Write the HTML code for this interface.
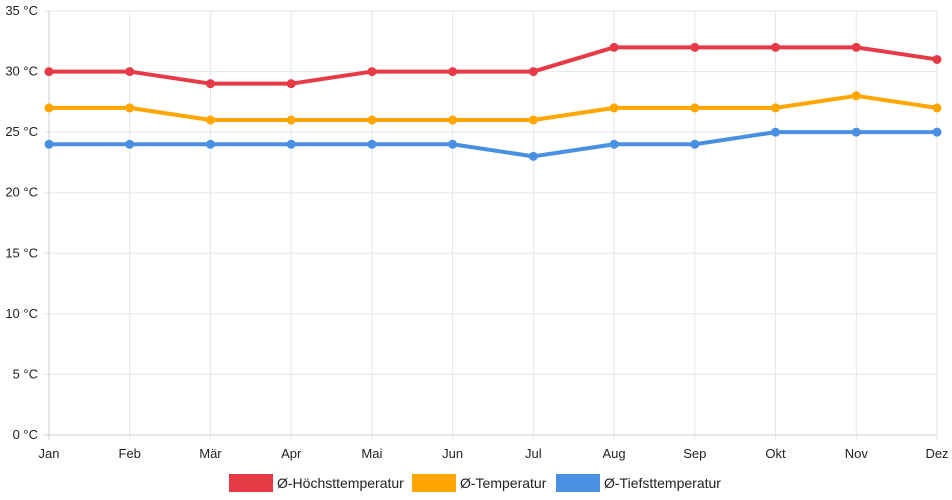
<!DOCTYPE html>
<html><head><meta charset="utf-8"><style>
html,body{margin:0;padding:0;background:#fff;}
svg{display:block;font-family:"Liberation Sans",sans-serif;}
</style></head><body>
<svg id="chart" width="952" height="500"></svg>
<script>
const months=["Jan","Feb","Mär","Apr","Mai","Jun","Jul","Aug","Sep","Okt","Nov","Dez"];
const highTemps=[30,30,29,29,30,30,30,32,32,32,32,31];
const avgTemps=[27,27,26,26,26,26,26,27,27,27,28,27];
const lowTemps=[24,24,24,24,24,24,23,24,24,25,25,25];
const yTicks=[0,5,10,15,20,25,30,35];
const seriesNames=["Ø-Höchsttemperatur","Ø-Temperatur","Ø-Tiefsttemperatur"];
const colors=["#e63a46","#ffa600","#4a90e2"];
const NS="http://www.w3.org/2000/svg";
const svg=document.getElementById('chart');
const x0=49,x1=937,y0=435,y1=11;
const xs=i=>x0+(x1-x0)*i/(months.length-1);
const ys=v=>y0-(y0-y1)*v/35;
function mk(t,a,p){const e=document.createElementNS(NS,t);for(const k in a)e.setAttribute(k,a[k]);(p||svg).appendChild(e);return e;}
const grid=mk('g',{});


yTicks.forEach(v=>{
  mk('line',{x1:x0-5,x2:x1,y1:ys(v),y2:ys(v),stroke:v===0?'#ccc':'#e6e6e6','stroke-width':1},grid);
  const t=mk('text',{x:x0-11,y:ys(v)+4,'text-anchor':'end','font-size':13,fill:'#222'});
  t.textContent=v+" °C";
  
  
});
months.forEach((m,i)=>{
  mk('line',{x1:xs(i),x2:xs(i),y1:y1,y2:y0+5,stroke:i===0?'#ccc':'#e6e6e6','stroke-width':1},grid);
  const t=mk('text',{x:xs(i),y:y0+23,'text-anchor':'middle','font-size':13,fill:'#222'});
  t.textContent=m;
  
  
});
[highTemps,avgTemps,lowTemps].forEach((d,s)=>{
  const g=mk('g',{});
  
  
  mk('polyline',{points:d.map((v,i)=>xs(i)+','+ys(v)).join(' '),fill:'none',stroke:colors[s],'stroke-width':4,'stroke-linejoin':'round'},g);
  d.forEach((v,i)=>{
    const c=mk('circle',{cx:xs(i),cy:ys(v),r:4.5,fill:colors[s]},g);
    
    
  });
});
const legX=[229,412,556];
seriesNames.forEach((n,s)=>{
  const g=mk('g',{});
  
  
  mk('rect',{x:legX[s],y:474,width:44,height:18,fill:colors[s]},g);
  const t=mk('text',{x:legX[s]+48,y:488,'font-size':14,fill:'#222'},g);
  t.textContent=n;
});
</script>
</body></html>
